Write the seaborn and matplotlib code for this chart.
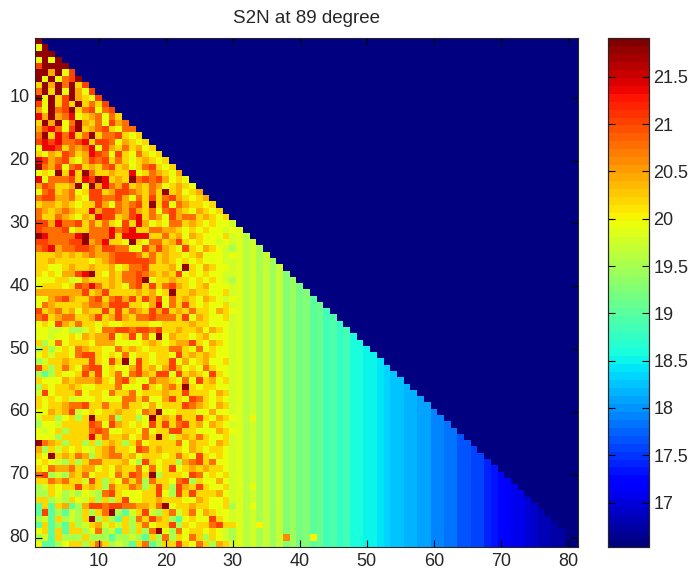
import numpy as np
import matplotlib
matplotlib.use("Agg")
import matplotlib.pyplot as plt
import seaborn as sns

# colour codes -> S2N value
code_values = {"D": 21.8, "R": 21.4, "r": 21.05, "o": 20.75, "n": 20.45, "g": 20.2,
               "y": 19.95, "l": 19.75, "k": 19.5, "m": 19.0}

# estimated cells of each row (left, noisy part of the triangle, up to col 30)
row_codes = [
    "D", "yD", "DDD", "yDyD", "rDDDD", "DDnDyr", "DyDyorD", "gDnDoDgr", "oDgDyDnyr", "DyDgrDngyr",
    "ryDgrgDgogr", "nyDorDgoryor", "RnDnoRygnoyog", "gDnDyoDngoyrno", "nrRoyrDgnorgyoo",
    "oDgRoRgoDgoorgyg", "rRrRoorRgrroyngyg", "yRRrgonoRyrngognyg", "gyngrognRroyrgyogyg",
    "Rrnorgynrorgogygngyg",
    "Donryorgngorgnygorgyg", "ygyDgRgDoggnggRygongyng", "RyooorgRrDRgngDorornygyn",
    "nroggnDyDnRonrgngonygngy", "yorgnoygrrgnrrongogDgnygn", "orrnnogyrroornyogrgorngygn",
    "gnngngyggrnyonorgDgryonggyg", "ongnonggRnrronrngoyorngyngyg", "oggongyngRrrgnrRgonyrnoogngyg",
    "rrnRoorgogogyrgRnygyoogngygyyl",
    "roooryggoooRorRggoonngygygyyly", "DRooooRDoooRgRRRRggognyngyyygl", "rrooorrDnoRggyDgyoognrgygyylyl",
    "orRnoorronrrooyyrnrngyrgyngylk", "gggngngnonnorrrogognggygnyyyly", "ggngggggygnorrrrrogngygygyyyll",
    "ggyygnggnggnygoorgggnyDgyngyyl", "gygynnrRDgyngoorongngrygygyyll", "yyygglyngggngoorDyggnggygygylk",
    "ygggygroRogngyorgrgorngygnyyyl",
    "nnnnnnnrgnrggggngnygDggnggyygl", "yynornggorgornrgrnryogngyngyly", "yonggggnoonrrrggynRyogrgygyygl",
    "rgnognynggrgrgongrnrgngoggyngy", "orgnooggnrgnrngoorooogryngyygl", "ygyrngoggygyyggggyyggggnggyyyl",
    "yyllykklgyoorrorrorggnggnyngyl", "yylyygyngnnrygryoyDynggygnyyyl", "gkyoygggynnnyyyygngygnnrgyngyl",
    "kgkygyonggyyogngygggoogyoygyyl",
    "yglggyorrgygyoyggyggyrgngngyyl", "klggngggrgyrgDyrgyggrynygnyygl", "rgkgogyorrygyynrgnynrnygyogyyl",
    "kmkgyygrgrygoyorngrryrgngyrgyl", "gyyyngnnnogyorgyyonngyoyrgnygl", "kgyggngyygggoyyyrgynogDgyggyyl",
    "lrygggoyggyoggoygggnggrgggyngl", "gygyglyyygyyyoogoyynrgyrogygyl", "gyggnoorggoggoggynygggrongyngl",
    "yyngnrlygyggnggyonDyygggyynyyl",
    "lggkygkgDggokggkyDgngrggrgyngy", "kyylggggroyrngygyrgrgorgnyngyl", "ylygkgggoroyyggyoyggrrggyyyngy",
    "yyykggggRgoggnygogDglgngogyygl", "Dongkggkgkgngkgoyggggoynggyngl", "nkglgygylgnoggyrogngggyngyggyl",
    "gyDgngonkgnoognygggygogyrgygyl", "ygylkgkgoogggnykrgyggknorgoyyl", "gyonnognnygynggoyoygrygngnggyl",
    "orklkngoyggyogrogDkgggyroygygl",
    "ggonogglrgkgyogokoggyorkgyynyl", "klgyggrgngkoggonkgrgkrngrgyygl", "kkgyklkylkorgyyyggrykrgrgggnyl",
    "ggklkgylgkgkgryyggngggyyngyygl", "mgmgnmknrrorroonngoDyggnggyygk", "mrmkmlkgkgoDkmlgrlkgolgoyngyyl",
    "klmgklkgDkgkmgkogrngkmygyyrgyl", "mgmkmgklgnlglgkgoyggrkgyggorgg", "ygmgmggkyoklmgkgkoDykoyggygylk",
    "klmgkkkgkkkmkklkmgkokgyogkgylk", "ymmkyggkgogklkmgomkggrgyogkngl",
]

# smooth right part of the triangle, S2N per column from col 31 to col 81
tail_values = [19.85, 19.6, 19.8, 19.5, 19.7, 19.4, 19.65, 19.25, 19.45, 19.15,
               19.25, 19.0, 19.1, 18.85, 18.95, 18.75, 18.8, 18.6, 18.6, 18.5,
               18.5, 18.4, 18.35, 18.25, 18.25, 18.15, 18.15, 18.05, 18.05, 17.95,
               17.95, 17.85, 17.85, 17.7, 17.7, 17.55, 17.55, 17.4, 17.35, 17.25,
               17.2, 17.1, 17.05, 17.0, 16.95, 16.85, 16.8, 16.7, 16.7, 16.6, 16.55]

# single odd cells in the smooth part: row, col, S2N
odd_rows = [78, 80, 80, 61, 72, 75]
odd_cols = [34, 38, 42, 33, 33, 33]
odd_vals = [20.0, 20.6, 20.0, 20.0, 19.95, 19.95]

empty_value = 16.53
n = 81
tick_labels = [10, 20, 30, 40, 50, 60, 70, 80]
cbar_ticks = [17, 17.5, 18, 18.5, 19, 19.5, 20, 20.5, 21, 21.5]
cbar_labels = ["17", "17.5", "18", "18.5", "19", "19.5", "20", "20.5", "21", "21.5"]

# Build matrix
grid = np.full((n, n), empty_value)
for r, codes in enumerate(row_codes):
    for c in range(r + 1):
        if c < len(codes):
            grid[r, c] = code_values[codes[c]]
        elif c >= 30:
            grid[r, c] = tail_values[c - 30]
        else:
            grid[r, c] = 20.0
for r, c, v in zip(odd_rows, odd_cols, odd_vals):
    grid[r - 1, c - 1] = v

plt.rcParams["font.family"] = ["Liberation Sans", "DejaVu Sans"]
W, H = 691, 575
fig = plt.figure(figsize=(W / 100, H / 100), dpi=100)
ax = fig.add_axes([35 / W, 1 - 547 / H, 543 / W, 509 / H])
cax = fig.add_axes([608 / W, 1 - 547 / H, 41 / W, 509 / H])

sns.heatmap(grid, ax=ax, cbar_ax=cax, cmap=plt.get_cmap("jet", 64),
            vmin=16.53, vmax=21.91, linewidths=0, rasterized=True)

ink = "#262626"
ax.set_xticks([t - 0.5 for t in tick_labels])
ax.set_xticklabels(tick_labels, rotation=0)
ax.set_yticks([t - 0.5 for t in tick_labels])
ax.set_yticklabels(tick_labels, rotation=0)
ax.tick_params(direction="in", length=5, width=0.8, top=True, right=True, color="black",
               labelsize=13, labelcolor=ink, pad=4)
for s in ax.spines.values():
    s.set_visible(True)
    s.set_linewidth(0.8)
    s.set_color(ink)
ax.set_title("S2N at 89 degree", fontsize=13.5, color=ink, pad=11)

cax.set_yticks(cbar_ticks)
cax.set_yticklabels(cbar_labels)
cax.yaxis.set_ticks_position("both")
cax.yaxis.set_label_position("right")
cax.tick_params(axis="y", direction="in", length=5, width=0.8, color="black", labelsize=13,
                labelcolor=ink, labelleft=False, labelright=True, pad=3)
for s in cax.spines.values():
    s.set_visible(True)
    s.set_linewidth(0.8)
    s.set_color(ink)

fig.savefig("out.png", dpi=100)
